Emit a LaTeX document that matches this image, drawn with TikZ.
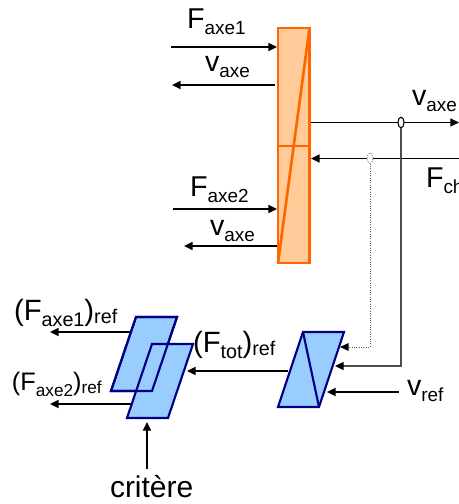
\documentclass[tikz,border=0pt]{standalone}
\usepackage{fontspec}
\setmainfont{Liberation Sans}
\usetikzlibrary{arrows.meta,shapes.geometric}
\definecolor{orgline}{HTML}{FF6600}
\definecolor{orgfill}{HTML}{FFCC99}
\definecolor{bluefill}{HTML}{99CCFF}
\definecolor{blueline}{HTML}{000080}
\newcommand{\symb}[2]{{\fontsize{21.5}{24}\selectfont #1\raisebox{-5pt}{\fontsize{14.2}{16}\selectfont #2}}}
\newcommand{\refb}[2]{{\fontsize{22}{24}\selectfont (F\raisebox{-5pt}{\fontsize{14.8}{16}\selectfont #1})\raisebox{-2.5pt}{\fontsize{14.8}{16}\selectfont #2}}}
\newcommand{\refc}[2]{{\fontsize{19}{22}\selectfont (F\raisebox{-5pt}{\fontsize{12.9}{16}\selectfont #1})\raisebox{-2.5pt}{\fontsize{12.9}{16}\selectfont #2}}}
\tikzset{
  sig/.style={draw=black,line width=1.1pt,-{Triangle[length=6.5pt,width=6pt]}},
  tap/.style={draw=black!70,line width=1pt},
  tapdot/.style={draw=black!65,line width=0.75pt,densely dotted},
  orgblock/.style={draw=orgline,line width=2pt,fill=orgfill},
  orgin/.style={draw=orgline,line width=2pt},
  bluepoly/.style={draw=blueline,line width=1.6pt,fill=bluefill,line join=miter},
  lbl/.style={inner sep=0pt,outer sep=0pt,anchor=base west,text=black},
  junction/.style={draw=black,line width=0.8pt,fill=white,ellipse,minimum width=4.5pt,minimum height=8pt,inner sep=0pt},
}
\begin{document}
\begin{tikzpicture}[x=0.75pt,y=-0.75pt]
\useasboundingbox (0,0) rectangle (459,504);
% orange block
\coordinate (oTL) at (278,28); \coordinate (oTR) at (309.5,28);
\coordinate (oBL) at (278,263); \coordinate (oBR) at (309.5,263);
\coordinate (oML) at (278,146); \coordinate (oMR) at (309.5,146);
\draw[orgblock] (oTL) -- (oTR) -- (oBR) -- (oBL) -- cycle;
\draw[orgin] (oML) -- (oMR);
\draw[orgin] (oTR) -- (oBL);
% blue regulator
\coordinate (rTL) at (303,332); \coordinate (rTR) at (344,332);
\coordinate (rBR) at (319,407); \coordinate (rBL) at (278,407);
\draw[bluepoly] (rTL) -- (rTR) -- (rBR) -- (rBL) -- cycle;
\draw[bluepoly] (rTL) -- (rBR);
% blue distributors
\coordinate (aTL) at (136,317); \coordinate (aTR) at (177,317);
\coordinate (aBR) at (152,391); \coordinate (aBL) at (111,391);
\coordinate (bTL) at (152,344); \coordinate (bTR) at (193,344);
\coordinate (bBR) at (168,418); \coordinate (bBL) at (127,418);
\draw[bluepoly] (aTL) -- (aTR) -- (aBR) -- (aBL) -- cycle;
\draw[bluepoly] (bTL) -- (bTR) -- (bBR) -- (bBL) -- cycle;
\draw[draw=blueline,line width=1.6pt] (aTL) -- (aTR) -- (aBR) -- (aBL) -- cycle;
% free ends
\coordinate (f1s) at (171,47);  \coordinate (f1e) at (277,47);
\coordinate (v1s) at (275,85);  \coordinate (v1e) at (172,85);
\coordinate (f2s) at (173,209); \coordinate (f2e) at (277,209);
\coordinate (v2s) at (277,246); \coordinate (v2e) at (184,246);
\coordinate (vos) at (310.5,122.5); \coordinate (voe) at (459,122.5);
\coordinate (fcs) at (459,158.5); \coordinate (fce) at (311,158.5);
\coordinate (rIn1) at (340,347); \coordinate (rIn2) at (335,366); \coordinate (rIn3) at (327,392);
\coordinate (vrs) at (399,392);
\coordinate (tots) at (288,371); \coordinate (tote) at (187,371);
\coordinate (a1s) at (130,332); \coordinate (a1e) at (50,332);
\coordinate (a2s) at (132,404); \coordinate (a2e) at (50,404);
\coordinate (cs) at (147,469); \coordinate (ce) at (147,422);
\draw[sig] (f1s) -- (f1e);
\draw[sig] (v1s) -- (v1e);
\draw[sig] (f2s) -- (f2e);
\draw[sig] (v2s) -- (v2e);
\draw[sig] (vos) -- (voe);
\draw[sig] (fcs) -- (fce);
\draw[sig] (vrs) -- (rIn3);
\draw[sig] (tots) -- (tote);
\draw[sig] (a1s) -- (a1e);
\draw[sig] (a2s) -- (a2e);
\draw[sig] (cs) -- (ce);
% taps
\node[junction] (jv) at (401,122.5) {};
\node[junction,draw=black!50,densely dotted,line width=0.6pt] (jf) at (370,158) {};
\draw[tap,-{Triangle[length=6.5pt,width=6pt,color=black,fill=black]}] (jv.south) |- (rIn2);
\draw[tapdot,-{Triangle[length=6.5pt,width=6pt,color=black,fill=black,line width=0pt]}] (jf.south) |- (rIn1);
% labels
\node[lbl] (tF1) at (187,28) {\symb{F}{axe1}};
\node[lbl] (tv1) at (205,71) {\symb{v}{axe}};
\node[lbl] (tvo) at (412,105) {\symb{v}{axe}};
\node[lbl] (tFc) at (426,187) {\symb{F}{ch}};
\node[lbl] (tF2) at (190,196) {\symb{F}{axe2}};
\node[lbl] (tv2) at (210,235) {\symb{v}{axe}};
\node[lbl] (tA1) at (14,320) {\refb{axe1}{ref}};
\node[lbl] (tA2) at (12,390) {\refc{axe2}{ref}};
\node[lbl] (tTot) at (193,352) {\refb{tot}{ref}};
\node[lbl] (tvr) at (407,395) {\symb{v}{ref}};
\node[lbl] (tcr) at (110,497) {\fontsize{22.5}{26}\selectfont critère};
\end{tikzpicture}
\end{document}
